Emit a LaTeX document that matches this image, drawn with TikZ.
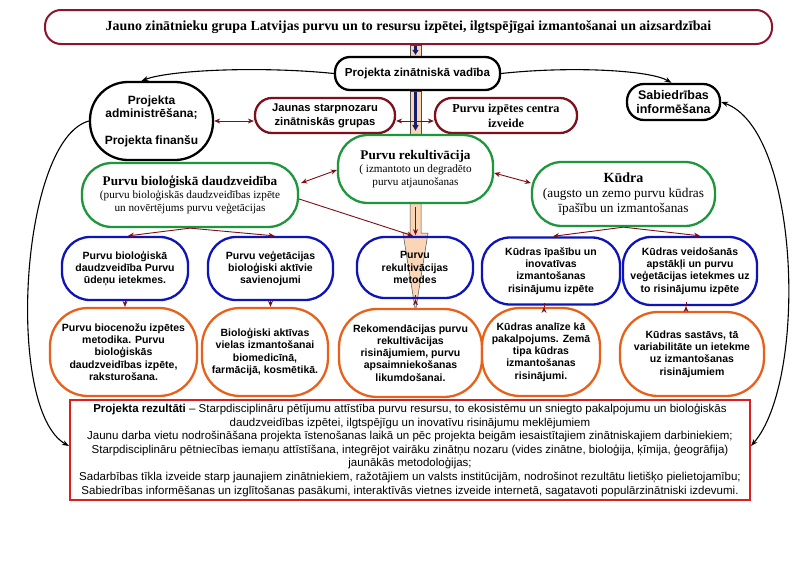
\documentclass[tikz,border=0pt]{standalone}
\usepackage{fontspec}
\setmainfont{Liberation Sans}
\newfontfamily\serifx{Liberation Serif}
\usetikzlibrary{arrows.meta,calc}
\pgfdeclarelayer{bg}
\pgfsetlayers{bg,main}
\definecolor{titlered}{RGB}{140,20,45}
\definecolor{wine}{RGB}{128,15,30}
\definecolor{grn}{RGB}{30,150,60}
\definecolor{blu}{RGB}{15,20,185}
\definecolor{org}{RGB}{232,96,25}
\definecolor{resred}{RGB}{222,30,30}
\definecolor{beige}{RGB}{250,214,182}
\definecolor{navy}{RGB}{20,30,110}
\definecolor{arr}{RGB}{125,15,20}
\tikzset{
  box/.style={draw, fill=white, line width=2.3pt, align=center, inner sep=1pt,
    font=\bfseries\fontsize{10.5}{12.2}\selectfont},
  blk/.style={box, draw=black},
  wbox/.style={box, draw=wine},
  gbox/.style={box, draw=grn, font=\serifx\fontsize{11.2}{13}\selectfont},
  bbox/.style={box, draw=blu, minimum height=63pt, rounded corners=28pt},
  obox/.style={box, draw=org, minimum height=88pt, rounded corners=38pt},
  rarr/.style={draw=arr, line width=0.9pt, -{Stealth[length=6pt,width=5pt]}},
  rdbl/.style={draw=arr, line width=0.9pt, {Stealth[length=6pt,width=5pt]}-{Stealth[length=6pt,width=5pt]}},
  karr/.style={draw=black, line width=1.1pt, -{Stealth[length=7pt,width=5pt]}},
  kdbl/.style={draw=black, line width=1.1pt, {Stealth[length=7pt,width=5pt]}-{Stealth[length=7pt,width=5pt]}},
}
\begin{document}
\begin{tikzpicture}[x=1pt,y=-1pt]
\useasboundingbox (0,0) rectangle (800,565);
\begin{pgfonlayer}{bg}
  \fill[white] (0,0) rectangle (800,565);
\end{pgfonlayer}

% title
\node[box, draw=titlered, line width=2pt, minimum width=727pt, minimum height=34pt, rounded corners=16pt,
  font=\serifx\bfseries\fontsize{13.9}{15}\selectfont] (title) at (408.5,27)
  {Jauno zinātnieku grupa Latvijas purvu un to resursu izpētei, ilgtspējīgai izmantošanai un aizsardzībai};

\node[blk, minimum width=165pt, minimum height=33pt, rounded corners=15pt, font=\bfseries\fontsize{11.6}{13}\selectfont] (vad) at (417.5,73.5) {Projekta zinātniskā vadība};
\node[blk, minimum width=123pt, minimum height=78pt, rounded corners=38pt, font=\bfseries\fontsize{12}{13.5}\selectfont] (admin) at (151.5,121) {Projekta\\administrēšana;\\[13pt]Projekta finanšu};
\node[wbox, minimum width=140pt, minimum height=35pt, rounded corners=17pt, font=\bfseries\fontsize{11.2}{14}\selectfont] (jaunas) at (325,115.5) {Jaunas starpnozaru\\zinātniskās grupas};
\node[wbox, minimum width=142pt, minimum height=35pt, rounded corners=17pt, font=\serifx\bfseries\fontsize{12.2}{15}\selectfont] (centra) at (506,115.5) {Purvu izpētes centra\\izveide};
\node[blk, minimum width=93pt, minimum height=36pt, rounded corners=17pt, font=\bfseries\fontsize{12.5}{13.5}\selectfont] (sabied) at (673.5,102) {Sabiedrības\\informēšana};

\node[gbox, minimum width=155pt, minimum height=68pt, rounded corners=30pt] (rekult) at (415.5,169)
  {{\bfseries\fontsize{13.2}{16}\selectfont Purvu rekultivācija}\\( izmantoto un degradēto\\purvu atjaunošanas};
\node[gbox, minimum width=216pt, minimum height=64pt, rounded corners=30pt] (biol) at (190,195)
  {{\bfseries\fontsize{13.2}{16}\selectfont Purvu bioloģiskā daudzveidība}\\(purvu bioloģiskās daudzveidības izpēte\\un novērtējums purvu veģetācijas};
\node[gbox, minimum width=183pt, minimum height=64pt, rounded corners=30pt, font=\serifx\fontsize{13.3}{15}\selectfont] (kudra) at (623.5,194)
  {{\bfseries\fontsize{14}{16}\selectfont Kūdra}\\(augsto un zemo purvu kūdras\\īpašību un izmantošanas};

% blue row
\node[bbox, minimum width=126pt] (b1) at (125,268.5) {Purvu bioloģiskā\\daudzveidība Purvu\\ūdeņu ietekmes.};
\node[bbox, minimum width=125pt] (b2) at (270.5,268.5) {Purvu veģetācijas\\bioloģiski aktīvie\\savienojumi};
\node[bbox, minimum width=116pt, minimum height=61pt, fill=none] (b3) at (415,267.5) {Purvu\\rekultivācijas\\metodes};
\node[bbox, minimum width=138pt, minimum height=67pt] (b4) at (551,271) {Kūdras īpašību un\\inovatīvas\\izmantošanas\\risinājumu izpēte};
\node[bbox, minimum width=134pt, minimum height=68pt] (b5) at (690,271) {Kūdras veidošanās\\apstākļi un purvu\\veģetācijas ietekmes uz\\to risinājumu izpēte};

% orange row
\node[obox, minimum width=147pt] (o1) at (123.5,352) {Purvu biocenožu izpētes\\metodika. Purvu\\bioloģiskās\\daudzveidības izpēte,\\raksturošana.};
\node[obox, minimum width=126pt] (o2) at (265,352) {Bioloģiski aktīvas\\vielas izmantošanai\\biomedicīnā,\\farmācijā, kosmētikā.};
\node[obox, minimum width=143pt] (o3) at (410.5,353) {Rekomendācijas purvu\\rekultivācijas\\risinājumiem, purvu\\apsaimniekošanas\\likumdošanai.};
\node[obox, minimum width=118pt] (o4) at (541,352) {Kūdras analīze kā\\pakalpojums. Zemā\\tipa kūdras\\izmantošanas\\risinājumi.};
\node[obox, minimum width=144pt, minimum height=84pt] (o5) at (692,354) {Kūdras sastāvs, tā\\variabilitāte un ietekme\\uz izmantošanas\\risinājumiem};

% results
\node[draw=resred, line width=2pt, fill=white, minimum width=680pt, minimum height=100pt, align=center, inner sep=2pt,
  font=\fontsize{11.5}{13.6}\selectfont] (res) at (410,450)
  {\textbf{Projekta rezultāti} -- Starpdisciplināru pētījumu attīstība purvu resursu, to ekosistēmu un sniegto pakalpojumu un bioloģiskās\\
   daudzveidības izpētei, ilgtspējīgu un inovatīvu risinājumu meklējumiem\\
   Jaunu darba vietu nodrošināšana projekta īstenošanas laikā un pēc projekta beigām iesaistītajiem zinātniskajiem darbiniekiem;\\
   Starpdisciplināru pētniecības iemaņu attīstīšana, integrējot vairāku zinātņu nozaru (vides zinātne, bioloģija, ķīmija, ģeogrāfija)\\
   jaunākās metodoloģijas;\\
   Sadarbības tīkla izveide starp jaunajiem zinātniekiem, ražotājiem un valsts institūcijām, nodrošinot rezultātu lietišķo pielietojamību;\\
   Sabiedrības informēšanas un izglītošanas pasākumi, interaktīvās vietnes izveide internetā, sagatavoti populārzinātniski izdevumi.};

% beige trunk arrows (background)
\begin{pgfonlayer}{bg}
  \coordinate (t1) at ($(title.south)+(7,0)$);
  \draw[fill=beige, draw=black!70, line width=0.5pt] ($(t1)+(-5.5,0)$) rectangle ($(vad.north)+(3.5,0)$);
  \draw[fill=beige, draw=black!70, line width=0.5pt] ($(vad.south)+(-7.5,0)$) rectangle ($(rekult.north)+(5.5,0)$);
  \draw[fill=beige, draw=black!70, line width=0.5pt]
    ($(rekult.south)+(-5.5,0)$) -- ++(0,29) -- ++(-7,0) -- ($(b3.south)+(0.5,12)$)
    -- ($(rekult.south)+(12.5,29)$) -- ++(-7,0) -- ($(rekult.south)+(5.5,0)$);
\end{pgfonlayer}
\draw[navy, line width=2.5pt, -{Triangle[length=5pt,width=6pt]}] ($(t1)+(0,1)$) -- ($(vad.north)+(-2,-1)$);
\draw[navy, line width=2.5pt, -{Triangle[length=6pt,width=6pt]}] ($(vad.south)+(-2,1)$) -- ($(rekult.north)+(0,-3)$);
\draw[rarr] ($(rekult.south)+(0,3)$) -- ++(0,28);

% double arrows
\draw[rdbl] (admin.east) -- (jaunas.west |- admin.east);
\draw[rdbl] (jaunas.east |- admin.east) -- (centra.west |- admin.east);
\draw[rdbl] ($(biol.east)+(2,-12)$) -- ($(rekult.west)+(0,1)$);
\draw[rdbl] ($(rekult.east)+(0,4)$) -- ($(kudra.west)+(0,-11)$);

% green to blue
\draw[rarr] ($(biol.east)+(0,4)$) -- ($(b3.north)+(-2,0)$);
\draw[rarr] (biol.south) -- ($(b1.north)+(3,0)$);
\draw[rarr] (biol.south) -- ($(b2.north)+(4,0)$);
\draw[rarr] (kudra.south) -- ($(b4.north)+(2,0)$);
\draw[rarr] (kudra.south) -- ($(b5.north)+(10,0)$);

% blue to orange
\draw[rarr] (b1.south) -- (b1.south |- o1.north);
\draw[rarr] (b2.south) -- (b2.south |- o2.north);
\draw[rarr] ($(b3.south)+(0.5,0)$) -- ($(b3.south)+(0.5,0)$ |- o3.north);
\draw[rarr] ($(o4.north)+(3,0)$) -- ($(o4.north)+(3,0)$ |- b4.south);
\draw[rarr] ($(b5.south)+(-4,0)$) -- ($(b5.south)+(-4,0)$ |- o5.north);

% black curves
\draw[karr] (vad.west) .. controls (260,66) and (170,70) .. ($(admin.north)+(-10,0)$);
\draw[karr] (vad.east) .. controls (570,66) and (650,70) .. ($(sabied.north)+(-2,0)$);
\draw[karr] (admin.west) .. controls (20,140) and (5,410) .. ($(res.west)+(0,-4)$);
\draw[kdbl] (sabied.east) .. controls (800,130) and (808,380) .. ($(res.east)+(0,-4)$);
\end{tikzpicture}
\end{document}
